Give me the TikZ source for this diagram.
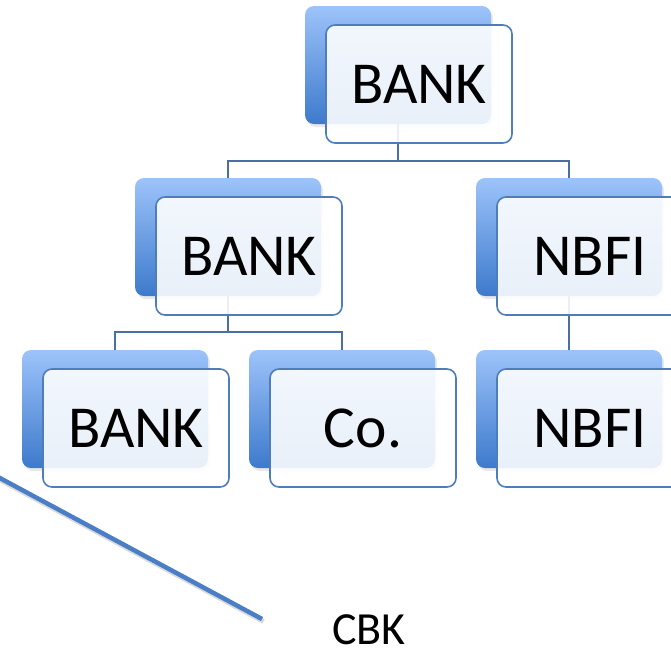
\documentclass[tikz,border=0pt]{standalone}
\usepackage{fontspec}
\setmainfont{Carlito}
\usetikzlibrary{shadows}
\definecolor{backtop}{HTML}{9DC3FA}
\definecolor{backbot}{HTML}{3D7ACC}
\definecolor{frontline}{HTML}{4F7DBA}
\definecolor{connline}{HTML}{4A6FA5}
\definecolor{diagline}{HTML}{4A7EC6}
\tikzset{
  backbox/.style={minimum width=186pt, minimum height=118pt, inner sep=0pt,
    rounded corners=9pt, top color=backtop, bottom color=backbot,
    drop shadow={shadow xshift=2pt, shadow yshift=-3pt, opacity=0.18}},
  frontbox/.style={minimum width=186pt, minimum height=118pt, inner sep=0pt,
    rounded corners=9pt, draw=frontline, line width=1.6pt, fill=white,
    fill opacity=0.89, text opacity=1,
    font=\fontsize{59.5}{61}\selectfont},
  conn/.style={draw=connline, line width=1.9pt},
}
\begin{document}
\begin{tikzpicture}[x=1pt,y=-1pt]
\useasboundingbox (0,0) rectangle (671,651);
% back boxes
\node[backbox] (b1) at (305+93,6+59) {};
\node[backbox] (b2) at (135+93,178+59) {};
\node[backbox] (b3) at (476+93,178+59) {};
\node[backbox] (b4) at (22+93,350+59) {};
\node[backbox] (b5) at (249+93,350+59) {};
\node[backbox] (b6) at (476+93,350+59) {};
% connectors
\draw[conn] (b1.south) -- ++(0,37) -| (b2.north);
\draw[conn] (b1.south) -- ++(0,37) -| (b3.north);
\draw[conn] (b2.south) -- ++(0,36) -| (b4.north);
\draw[conn] (b2.south) -- ++(0,36) -| (b5.north);
\draw[conn] (b3.south) -- (b6.north);
% front boxes
\node[frontbox] (f1) at (326+93,26+58) {BANK};
\node[frontbox] (f2) at (156+93,198+58) {BANK};
\node[frontbox] (f3) at (497+93,198+58) {NBFI};
\node[frontbox] (f4) at (43+93,370+58) {BANK};
\node[frontbox] (f5) at (270+93,370+58) {Co.};
\node[frontbox] (f6) at (497+93,370+58) {NBFI};
% diagonal line and label
\coordinate (d1) at (-2,477);
\coordinate (d2) at (262,619);
\draw[black, opacity=0.15, line width=5pt] ([shift={(1.5,2.5)}]d1) -- ([shift={(1.5,2.5)}]d2);
\draw[diagline, line width=4.5pt] (d1) -- (d2);
\node[font=\fontsize{46}{48}\selectfont, inner sep=0pt] (cbk) at (369,630) {CBK};
\end{tikzpicture}
\end{document}
